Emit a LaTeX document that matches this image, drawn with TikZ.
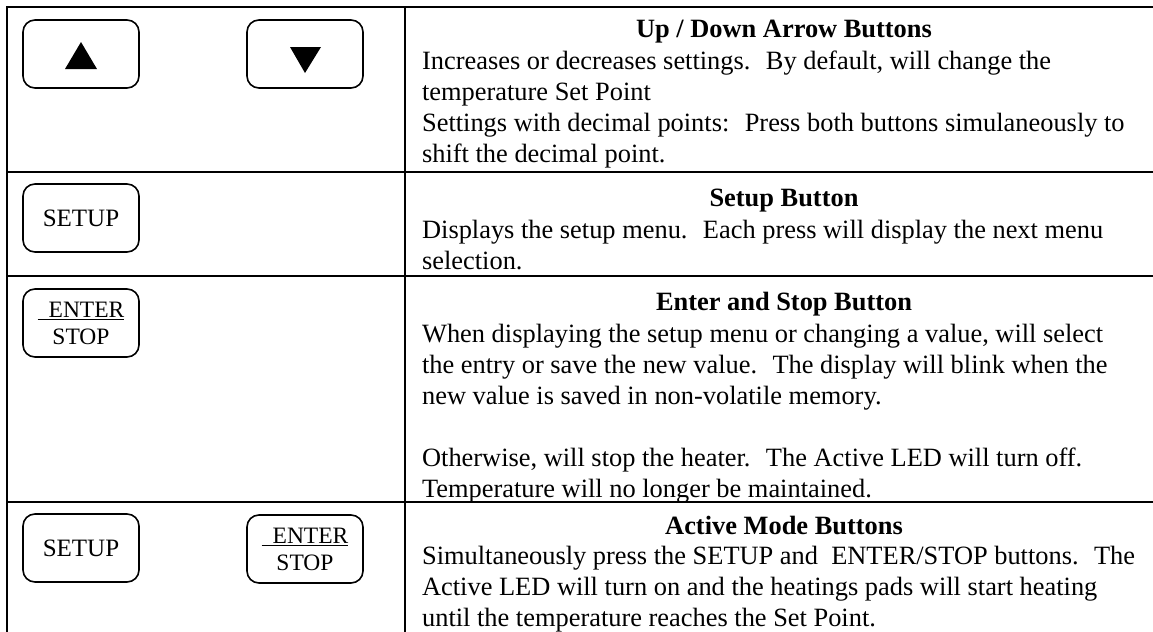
\documentclass[tikz,border=0pt]{standalone}
\usepackage{fontspec}
\setmainfont{Liberation Serif}

\begin{document}
\begin{tikzpicture}[x=0.5pt, y=-0.5pt, line width=1.1pt,
  key/.style={draw, rounded corners=6pt, line width=0.8pt, minimum width=58pt,
    minimum height=34pt, inner sep=0pt, font=\fontsize{12.5}{14}\selectfont},
  keytwo/.style={key, align=center, font=\fontsize{11.75}{13.5}\selectfont},
  head/.style={anchor=base, inner sep=0pt, font=\fontsize{13.2}{15.5}\selectfont\bfseries},
  body/.style={anchor=north west, inner sep=0pt, align=left,
    font=\fontsize{13.2}{15.5}\selectfont}]
  \useasboundingbox (0,0) rectangle (1153,632);
  \draw (1160,7) -- (7,7) -- (7,640);
  \draw (405,7) -- (405,640);
  \foreach \y in {172,276,502} \draw (7,\y) -- (1160,\y);

  \node[key] (up) at (81,54) {};
  \fill[shift={(up.center)}] (-16,15) -- (16,15) -- (0,-12) -- cycle;
  \node[key] (down) at (305,54) {};
  \fill[shift={(down.center)}] (-15,-7) -- (16,-7) -- (0,19) -- cycle;
  \node[key] (setup) at (81,218) {SETUP};
  \node[keytwo] (enter) at (81,323) {\underline{\hspace{5.5pt}ENTER}\\STOP};
  \node[key] (setupb) at (81,548) {SETUP};
  \node[keytwo] (enterb) at (305,549) {\underline{\hspace{5.5pt}ENTER}\\STOP};

  \node[head] (uphead) at (784,37) {Up / Down Arrow Buttons};
  \node[body] (uptext) at (421,46.3) {\strut Increases or decreases settings.~ By default, will change the\\
    temperature Set Point\\
    Settings with decimal points:~ Press both buttons simulaneously to\\
    shift the decimal point.};
  \node[head] (setuphead) at (784,206) {Setup Button};
  \node[body] (setuptext) at (421,215.3) {\strut Displays the setup menu.~ Each press will display the next menu\\
    selection.};
  \node[head] (enterhead) at (784,310) {Enter and Stop Button};
  \node[body] (entertext) at (421,319.3) {\strut When displaying the setup menu or changing a value, will select\\
    the entry or save the new value.~ The display will blink when the\\
    new value is saved in non-volatile memory.\\
    \strut\\
    Otherwise, will stop the heater.~ The Active LED will turn off.\\
    Temperature will no longer be maintained.};
  \node[head] (activehead) at (784,534) {Active Mode Buttons};
  \node[body] (activetext) at (421,541.3) {\strut Simultaneously press the SETUP and~ ENTER/STOP buttons.~ The\\
    Active LED will turn on and the heatings pads will start heating\\
    until the temperature reaches the Set Point.};
\end{tikzpicture}
\end{document}
